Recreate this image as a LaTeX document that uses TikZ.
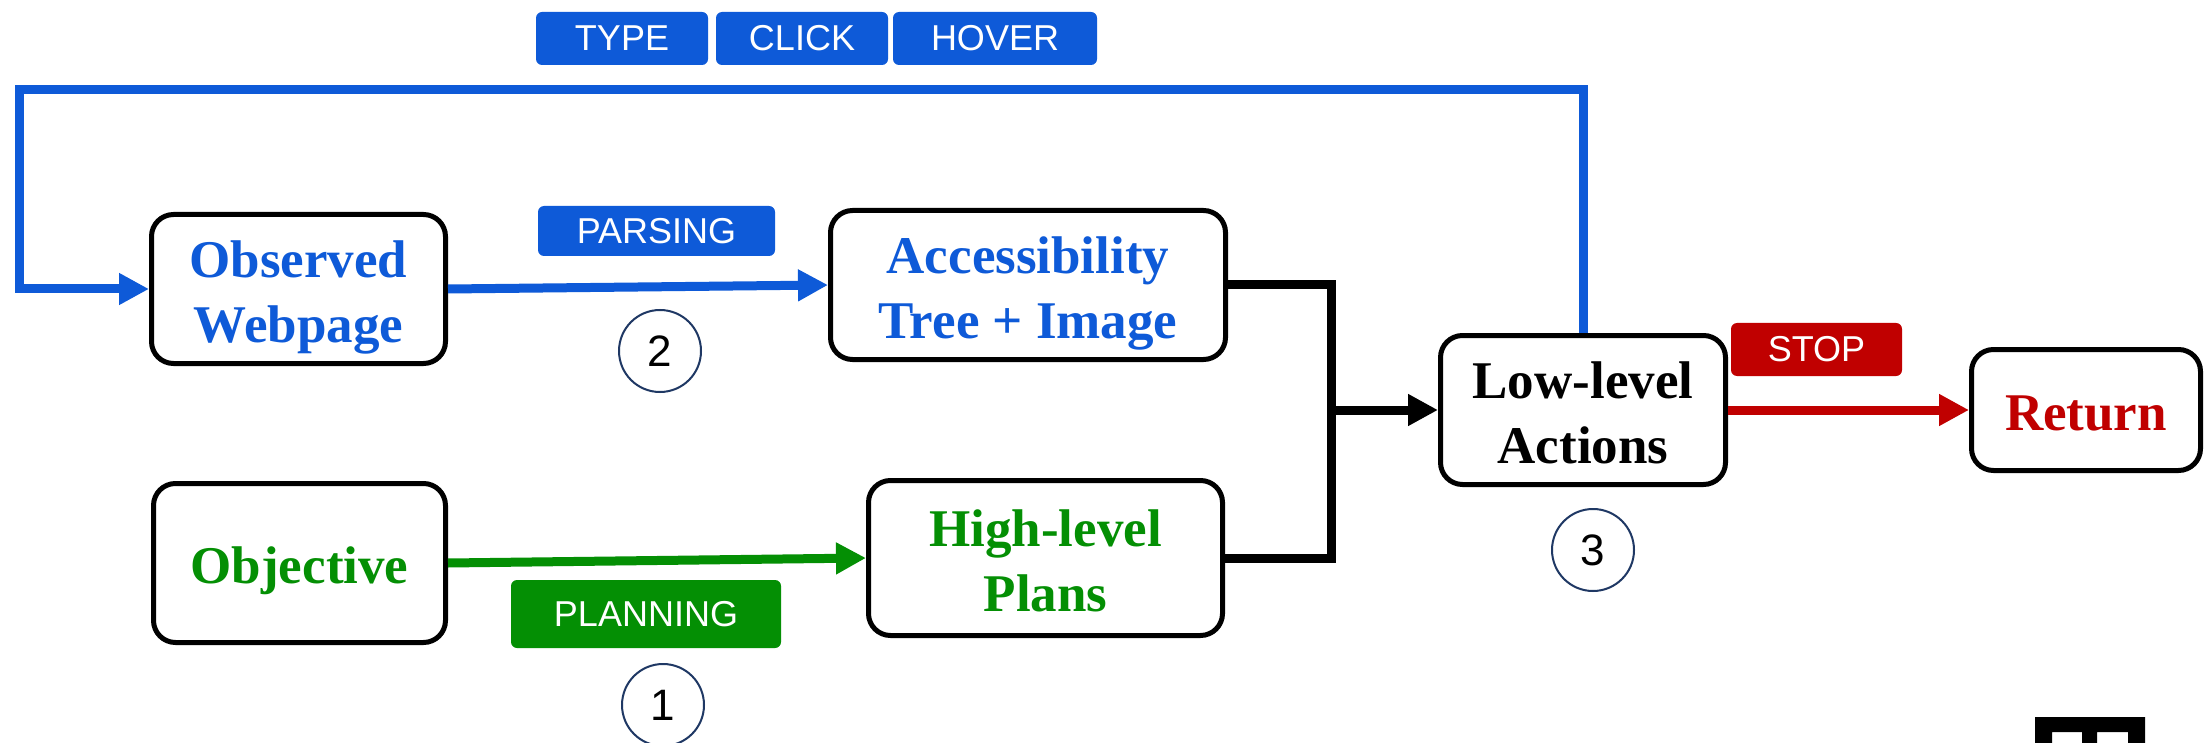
\documentclass[tikz,border=0pt]{standalone}
\usepackage{fontspec}
\setmainfont{Liberation Serif}
\newfontfamily\labelfont{Liberation Sans}
\usetikzlibrary{arrows.meta}
\definecolor{actblue}{RGB}{14,90,216}
\definecolor{plangreen}{RGB}{4,143,4}
\definecolor{stopred}{RGB}{192,0,0}
\definecolor{circnavy}{RGB}{31,56,100}
% struts that fix the extent of the first and last line of a stage label
\newcommand\firstline{\rule{0pt}{55.5pt}}
\newcommand\lastline{\rule[-14pt]{0pt}{14pt}}
\begin{document}
\begin{tikzpicture}[x=1pt,y=-1pt,
  stage/.style={draw=black, line width=5pt, rounded corners=22pt, fill=white,
    align=center, inner sep=0pt,
    font=\fontsize{53}{65}\selectfont\bfseries},
  tag/.style={fill=#1, rounded corners=6pt, text=white, inner sep=0pt,
    font=\labelfont\fontsize{36}{40}\selectfont},
  stepnum/.style={draw=circnavy, line width=2pt, circle, minimum size=82pt,
    inner sep=0pt, font=\labelfont\fontsize{44}{48}\selectfont},
  flow/.style={line width=9pt, -{Triangle[length=30pt,width=30pt]}},
  link/.style={line width=9pt},
]
\fill[white] (0,0) rectangle (2206,743);
\useasboundingbox (0,0) rectangle (2206,743);

% stages
\node[stage, text=actblue, minimum width=294pt, minimum height=149pt] (obs) at (298.5,289) {\firstline Observed\\Webpage\lastline};
\node[stage, text=actblue, minimum width=395pt, minimum height=149pt] (acc) at (1028,285) {\firstline Accessibility\\Tree + Image\lastline};
\node[stage, text=plangreen, minimum width=292pt, minimum height=159pt] (obj) at (299.5,563) {\firstline Objective\lastline};
\node[stage, text=plangreen, minimum width=354pt, minimum height=155pt] (high) at (1045.5,558) {\firstline High-level\\Plans\lastline};
\node[stage, text=black, minimum width=285pt, minimum height=149pt] (low) at (1583,410) {\firstline Low-level\\Actions\lastline};
\node[stage, text=stopred, minimum width=229pt, minimum height=121pt] (ret) at (2086,410) {\firstline Return\lastline};

% action tags
\node[tag=actblue, minimum width=172pt, minimum height=53pt] (type) at (622,38.5) {TYPE};
\node[tag=actblue, minimum width=172pt, minimum height=53pt] (click) at (802,38.5) {CLICK};
\node[tag=actblue, minimum width=204pt, minimum height=53pt] (hover) at (995,38.5) {HOVER};
\node[tag=actblue, minimum width=237pt, minimum height=50pt] (parse) at (656.5,231) {PARSING};
\node[tag=plangreen, minimum width=270pt, minimum height=68pt] (plan) at (646,614) {PLANNING};
\node[tag=stopred, minimum width=171pt, minimum height=53pt] (stop) at (1816.5,349.5) {STOP};

% step numbers
\node[stepnum] (n2) at (660,351) {2};
\node[stepnum] (n1) at (663,705) {1};
\node[stepnum] (n3) at (1593,550) {3};

% connectors
\coordinate (loopL) at (19,90);
\coordinate (join) at (1331,410);
\draw[flow, actblue] (obs.east) -- (acc.west);
\draw[flow, plangreen] (obj.east) -- (high.west);
\draw[link] (acc.east) -| (join) |- (high.east);
\draw[flow] (join) -- (low.west);
\draw[flow, stopred] (low.east) -- (ret.west);
\draw[flow, actblue] (low.north) |- (loopL) |- (obs.west);

% mark in the lower right corner
\fill[black, even odd rule] (2035,717) rectangle (2145,760)
  (2052,732) rectangle (2082,760) (2097,732) rectangle (2128,760);
\end{tikzpicture}
\end{document}
